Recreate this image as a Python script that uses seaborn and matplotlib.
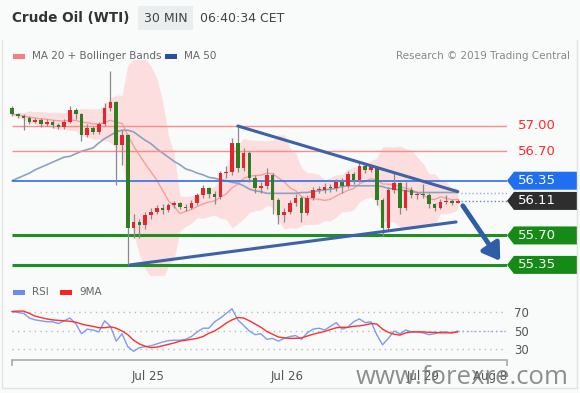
import numpy as np
import pandas as pd
import matplotlib
matplotlib.use("Agg")
import matplotlib.pyplot as plt
import matplotlib.transforms as mtransforms
from matplotlib.patches import Polygon, Rectangle
from matplotlib.lines import Line2D
import seaborn as sns

# hourly candles, Jul 24 -> Jul 29 06:30
first_open = 57.21
closes = [57.14, 57.12, 57.10, 57.05, 57.07, 57.02, 57.05, 57.01, 56.99, 57.05,
          57.19, 57.14, 56.89, 56.98, 56.93, 57.02, 57.21, 57.28, 56.77, 56.89,
          55.79, 55.86, 55.82, 55.94, 55.98, 56.03, 56.00, 56.06, 56.09, 56.04,
          56.03, 56.09, 56.18, 56.26, 56.19, 56.16, 56.44, 56.45, 56.80, 56.50,
          56.68, 56.38, 56.26, 56.29, 56.42, 56.12, 55.94, 55.98, 56.09, 56.15,
          55.97, 56.15, 56.24, 56.24, 56.28, 56.26, 56.34, 56.29, 56.43, 56.36,
          56.53, 56.48, 56.51, 56.12, 55.79, 56.24, 56.32, 56.02, 56.24, 56.18,
          56.19, 56.18, 56.07, 56.03, 56.10, 56.11, 56.09, 56.11]
highs = [57.24, 57.16, 57.14, 57.12, 57.10, 57.09, 57.08, 57.07, 57.04, 57.08,
         57.24, 57.21, 57.15, 57.02, 57.00, 57.05, 57.27, 57.65, 57.30, 56.95,
         56.91, 55.95, 55.90, 55.98, 56.02, 56.06, 56.07, 56.09, 56.11, 56.10,
         56.07, 56.12, 56.21, 56.30, 56.28, 56.23, 56.47, 56.52, 56.86, 56.99,
         56.74, 56.70, 56.42, 56.34, 56.50, 56.44, 56.15, 56.03, 56.12, 56.19,
         56.17, 56.18, 56.27, 56.29, 56.32, 56.31, 56.37, 56.38, 56.46, 56.45,
         56.56, 56.55, 56.54, 56.52, 56.14, 56.28, 56.44, 56.34, 56.33, 56.27,
         56.22, 56.31, 56.20, 56.09, 56.13, 56.18, 56.13, 56.13]
lows = [57.12, 57.09, 56.95, 57.02, 57.03, 56.99, 57.00, 56.98, 56.96, 56.97,
        57.03, 57.08, 56.82, 56.87, 56.90, 56.91, 57.00, 57.18, 56.30, 56.54,
        55.35, 55.67, 55.67, 55.78, 55.90, 55.95, 55.96, 55.98, 56.03, 56.01,
        55.99, 56.01, 56.06, 56.15, 56.14, 56.07, 56.13, 56.38, 56.42, 56.45,
        56.46, 56.33, 56.20, 56.21, 56.25, 55.95, 55.84, 55.86, 55.95, 56.05,
        55.86, 55.94, 56.12, 56.20, 56.21, 56.22, 56.23, 56.20, 56.26, 56.31,
        56.33, 56.44, 56.45, 56.06, 55.69, 55.76, 56.20, 55.96, 56.00, 56.14,
        56.13, 56.15, 56.03, 55.99, 56.01, 56.07, 56.06, 56.08]
ma50 = [56.35, 56.38, 56.41, 56.44, 56.48, 56.51, 56.54, 56.57, 56.60, 56.63,
        56.64, 56.67, 56.70, 56.72, 56.74, 56.80, 56.85, 56.89, 56.93, 56.95,
        56.95, 56.93, 56.88, 56.83, 56.79, 56.73, 56.68, 56.63, 56.58, 56.54,
        56.49, 56.47, 56.44, 56.42, 56.39, 56.38, 56.36, 56.35, 56.33, 56.32,
        56.29, 56.25, 56.23, 56.22, 56.20, 56.20, 56.20, 56.20, 56.20, 56.20,
        56.21, 56.21, 56.22, 56.23, 56.24, 56.25, 56.26, 56.28, 56.29, 56.29,
        56.29, 56.29, 56.29, 56.29, 56.28, 56.26, 56.25, 56.24, 56.23, 56.22,
        56.21, 56.21, 56.21, 56.21, 56.21, 56.21, 56.21, 56.21]
rsi = [71, 70, 69, 64, 62, 61, 60, 60, 58, 61,
       64, 58, 47, 52, 51, 49, 61, 55, 39, 47,
       33, 28, 32, 33, 34, 36, 38, 39.5, 40, 40,
       41, 44, 49, 53, 53, 60, 64, 69, 74, 62,
       56, 50, 46, 47, 41, 42, 39, 42, 44, 45,
       41, 48, 52, 53, 51, 55, 59, 52, 54, 60,
       63, 59, 60, 46, 35, 42, 50, 47, 51, 49,
       49, 48, 46, 47, 49, 49, 48, 50]
rsi_ma = [71, 71.5, 71.5, 69, 66, 64.5, 63, 62, 61.5, 61,
          60.5, 59.5, 57.5, 56, 55, 53.5, 53.5, 54.5, 53, 50,
          46, 40, 36, 33.5, 32, 32.5, 34, 35.5, 37, 39,
          40, 41, 42, 44, 47.5, 50, 54, 58.5, 62, 64.5,
          64, 61, 57.5, 54, 49.5, 46.5, 43.5, 42.5, 42, 42,
          42.5, 44.5, 46.5, 48, 49.5, 51.5, 53.5, 54, 54, 55,
          55.5, 56.5, 58, 57.5, 52, 48.5, 46.5, 45.5, 48, 49,
          49, 49, 48.5, 48.5, 48, 48, 48, 49]

levels_red = [57.00, 56.70]
level_blue = 56.35
last_price = 56.11
levels_green = [55.70, 55.35]
upper_trend = ([39.0, 77.0], [57.00, 56.22])
lower_trend = ([20.4, 76.7], [55.35, 55.86])
arrow_path = ([77.6, 84.6], [56.08, 55.37])
date_labels = ["Jul 25", "Jul 26", "Jul 29", "Aug 8"]
date_pos = [23.5, 47.5, 71.0, 82.6]
rsi_levels = [70, 50, 30]

df = pd.DataFrame({"close": closes, "high": highs, "low": lows})
df["open"] = [first_open] + closes[:-1]
df["bar"] = np.arange(len(df))
roll = df["close"].rolling(10, min_periods=1)
df["ma20"] = roll.mean()
sd = roll.std().fillna(0)
df["bb_up"] = df["ma20"] + 2 * sd
df["bb_lo"] = df["ma20"] - 2 * sd
df["ma50"] = ma50
df["rsi"] = rsi
df["rsi_ma"] = rsi_ma

sns.set_theme(style="white")
plt.rcParams["font.family"] = ["DejaVu Sans"]

W, H = 580, 393
fig = plt.figure(figsize=(W / 100, H / 100), dpi=100, facecolor="#f9fafa")


def fx(x):
    return x / W


def fy(y):
    return 1 - y / H


XMIN, XMAX = -0.35, 85.5
ax = fig.add_axes([fx(10), fy(275), fx(497), 215 / H])
ax.set_facecolor("none")
ax.set_xlim(XMIN, XMAX)
ax.set_ylim(55.23, 57.784)
ax.set_axis_off()

# bollinger + moving averages
ax.fill_between(df["bar"], df["bb_lo"], df["bb_up"], color="#fdd9d9", alpha=0.85, lw=0, zorder=1)
sns.lineplot(x=df["bar"], y=df["ma20"], ax=ax, color="#f4a0a0", lw=1, zorder=2)
sns.lineplot(x=df["bar"], y=df["ma50"], ax=ax, color="#8ea2bd", lw=1.2, zorder=2)

# levels
ax.hlines(levels_red, 0, XMAX, color="#ff8a8a", lw=1, zorder=2)
ax.hlines(level_blue, 0, XMAX, color="#2f6fe8", lw=1.2, zorder=2)
ax.hlines(levels_green, 0, XMAX, color="#1f8f1f", lw=2.2, zorder=2)
ax.hlines(ma50[-1], len(df) - 0.5, XMAX, color="#9ab0d0", lw=1, linestyles=":", zorder=2)
ax.hlines(last_price, len(df) - 0.5, XMAX, color="#6f86a0", lw=1, linestyles=":", zorder=2)

# candles
up = df["close"] >= df["open"]
colors = np.where(up, "#e3262e", "#2f7d1f")
ax.vlines(df["bar"], df["low"], df["high"], color="#8a8a8a", lw=0.9, zorder=3)
body = (df["close"] - df["open"]).where(lambda s: s.abs() > 0.008, 0.008)
ax.bar(df["bar"], body, bottom=df["open"], width=0.62, color=colors, lw=0, zorder=4)

# trend lines + arrow
ax.plot(upper_trend[0], upper_trend[1], color="#3d62a8", lw=2.2, zorder=5, solid_capstyle="round")
ax.plot(lower_trend[0], lower_trend[1], color="#3d62a8", lw=2.2, zorder=5, solid_capstyle="round")
ax.annotate("", xy=(arrow_path[0][1], arrow_path[1][1]), xytext=(arrow_path[0][0], arrow_path[1][0]),
            arrowprops=dict(arrowstyle="-|>,head_length=0.7,head_width=0.45", lw=3.5,
                            color="#2f5ea8", mutation_scale=14), zorder=6, annotation_clip=False)

# right-hand tags
tr = mtransforms.blended_transform_factory(ax.transAxes, ax.transData)
half = 9 / 84.2
x0, x1, x2 = 1.0, 1.014, 1.141


def tag(price, face, text):
    pts = [(x0, price), (x1, price + half), (x2, price + half), (x2, price - half), (x1, price - half)]
    ax.add_patch(Polygon(pts, closed=True, transform=tr, facecolor=face, edgecolor="none", clip_on=False, zorder=7))
    ax.text(1.022, price, text, transform=tr, color="white", fontsize=9.5, va="center", ha="left", zorder=8)


for p in levels_red:
    ax.text(1.022, p, f"{p:.2f}", transform=tr, color="#ff2a2a", fontsize=9.5, va="center", ha="left")
tag(level_blue, "#1f6ff0", f"{level_blue:.2f}")
tag(last_price, "#2e2e2e", f"{last_price:.2f}")
for p in levels_green:
    tag(p, "#168a16", f"{p:.2f}")

# RSI panel
ax2 = fig.add_axes([fx(10), fy(360), fx(497), 60 / H])
ax2.set_facecolor("none")
ax2.set_xlim(XMIN, XMAX)
ax2.set_ylim(18.6, 83.5)
ax2.hlines(rsi_levels, 0, XMAX, color="#bbbbbb", lw=1, linestyles=(0, (1, 3)), zorder=1)
ax2.hlines(rsi[-1], len(df) - 1, XMAX, color="#90a8e8", lw=1, linestyles=(0, (1, 2)), zorder=1)
sns.lineplot(x=df["bar"], y=df["rsi"], ax=ax2, color="#7c9cf0", lw=1, zorder=2)
sns.lineplot(x=df["bar"], y=df["rsi_ma"], ax=ax2, color="#ff2f2f", lw=1, zorder=3)
for s in ["top", "left", "right"]:
    ax2.spines[s].set_visible(False)
ax2.spines["bottom"].set_color("#aaaaaa")
ax2.spines["bottom"].set_linewidth(1.2)
ax2.spines["bottom"].set_bounds(0, XMAX)
ax2.set_xlabel("")
ax2.set_ylabel("")
ax2.set_xticks(date_pos, date_labels)
ax2.set_xticks([0, XMAX], minor=True)
ax2.tick_params(axis="x", which="major", length=0, pad=7, labelsize=8.5, labelcolor="#555555")
ax2.tick_params(axis="x", which="minor", length=4, width=1.2, color="#aaaaaa", direction="out", bottom=True)
ax2.yaxis.tick_right()
ax2.set_yticks(rsi_levels)
ax2.tick_params(axis="y", length=0, pad=5, labelsize=8.5, labelcolor="#555555")

# header
fig.text(fx(12), fy(18), "Crude Oil (WTI)", fontsize=9.8, fontweight="bold", color="#333333", va="center")
fig.add_artist(Rectangle((fx(138), fy(30)), fx(55), 24 / H, transform=fig.transFigure,
                         facecolor="#eaeeee", edgecolor="none"))
fig.text(fx(165.5), fy(18), "30 MIN", fontsize=9, color="#444444", va="center", ha="center")
fig.text(fx(200), fy(18), "06:40:34 CET", fontsize=9, color="#444444", va="center")


# legends
def legend_item(x, y, color, label):
    fig.add_artist(Rectangle((fx(x), fy(y + 2.5)), fx(12), 5 / H, transform=fig.transFigure,
                             facecolor=color, edgecolor="none"))
    fig.text(fx(x + 19), fy(y), label, fontsize=7.5, color="#666666", va="center")


legend_item(13, 56, "#f28080", "MA 20 + Bollinger Bands")
legend_item(165, 56, "#2b4f9c", "MA 50")
legend_item(13, 292, "#6b8fe8", "RSI")
legend_item(60, 292, "#ff2020", "9MA")
fig.text(fx(570), fy(56), "Research \u00a9 2019 Trading Central", fontsize=7.5, color="#888888",
         va="center", ha="right")

# frame (left, bottom, right) + watermark
for xs, ys in [([2, 2], [40, 388]), ([2, 577], [388, 388]), ([577, 577], [40, 388])]:
    fig.add_artist(Line2D([fx(v) for v in xs], [fy(v) for v in ys], transform=fig.transFigure,
                          color="#e2e4e4", lw=1))
fig.text(fx(462), fy(377), "www.forexre.com", fontsize=18.5, color="#6a6a6a", alpha=0.75,
         va="center", ha="center", family=["Open Sans", "DejaVu Sans"])

fig.savefig("out.png", dpi=100, facecolor=fig.get_facecolor())
